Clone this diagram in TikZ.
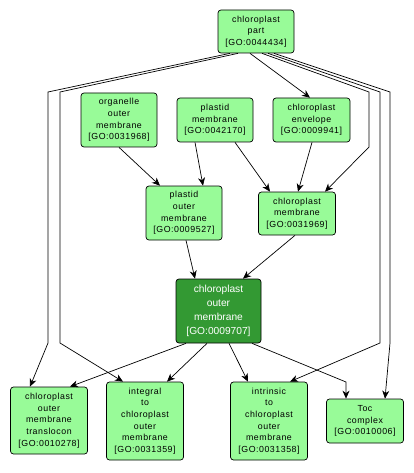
\documentclass[tikz,border=0pt]{standalone}
\usepackage{fontspec}
\setmainfont[LetterSpace=6]{Liberation Sans}
\newfontfamily\darkfont{Liberation Sans}
\usetikzlibrary{arrows.meta}
\definecolor{lightgo}{RGB}{152,251,152}
\definecolor{darkgo}{RGB}{51,153,51}
\begin{document}
\begin{tikzpicture}[x=1pt,y=-1pt,
  gobox/.style={draw=black,line width=0.7pt,rounded corners=3pt,fill=lightgo,
    align=center,inner sep=0pt,font=\fontsize{8.8}{11.7}\selectfont},
  godark/.style={gobox,fill=darkgo,text=white,font=\darkfont\fontsize{10.2}{14}\selectfont},
  edge/.style={draw=black,line width=0.7pt,-{Stealth[length=8pt,width=7pt,inset=2.5pt]}},
  wire/.style={draw=black,line width=0.7pt}]
\useasboundingbox (0,0) rectangle (414,473);
% nodes
\node[gobox,minimum width=76pt,minimum height=43pt] (part) at (256,31.5) {chloroplast\\part\\{[GO:0044434]}};
\node[gobox,minimum width=76pt,minimum height=54pt] (org) at (119,120) {organelle\\outer\\membrane\\{[GO:0031968]}};
\node[gobox,minimum width=76pt,minimum height=44pt] (pm) at (215,120) {plastid\\membrane\\{[GO:0042170]}};
\node[gobox,minimum width=77pt,minimum height=44pt] (env) at (311.5,120) {chloroplast\\envelope\\{[GO:0009941]}};
\node[gobox,minimum width=76pt,minimum height=54pt] (pom) at (184,213) {plastid\\outer\\membrane\\{[GO:0009527]}};
\node[gobox,minimum width=77pt,minimum height=43pt] (cm) at (297,213.5) {chloroplast\\membrane\\{[GO:0031969]}};
\node[godark,minimum width=85pt,minimum height=64pt] (com) at (218.5,311) {chloroplast\\outer\\membrane\\{[GO:0009707]}};
\node[gobox,minimum width=77pt,minimum height=67pt] (trans) at (49,420.5) {chloroplast\\outer\\membrane\\translocon\\{[GO:0010278]}};
\node[gobox,minimum width=77pt,minimum height=78pt] (integ) at (145,421) {integral\\to\\chloroplast\\outer\\membrane\\{[GO:0031359]}};
\node[gobox,minimum width=77pt,minimum height=78pt] (intr) at (269,421) {intrinsic\\to\\chloroplast\\outer\\membrane\\{[GO:0031358]}};
\node[gobox,minimum width=77pt,minimum height=44pt] (toc) at (365,421) {Toc\\complex\\{[GO:0010006]}};
% bend points
\coordinate (la1) at (48,92);  \coordinate (la2) at (48,343);
\coordinate (lb1) at (60,92);  \coordinate (lb2) at (60,343);
\coordinate (ra1) at (369,92); \coordinate (ra2) at (369,147);
\coordinate (rb1) at (380,92); \coordinate (rb2) at (380,343);
\coordinate (rc1) at (390,92); \coordinate (rc2) at (390,343);
\coordinate (tb) at (346,382);
% edges
\draw[edge] ([xshift=-6pt]part.south) -- ([xshift=-1.5pt]env.north);
\draw[edge] ([xshift=-26pt]part.south) -- (la1) -- (la2) -- ([xshift=-19pt]trans.north);
\draw[edge] ([xshift=-18pt]part.south) -- (lb1) -- (lb2) -- ([xshift=-22pt]integ.north);
\draw[edge] ([xshift=6pt]part.south) -- (ra1) -- (ra2) -- ([xshift=28pt]cm.north);
\draw[edge] ([xshift=12pt]part.south) -- (rb1) -- (rb2) -- ([xshift=21pt]intr.north);
\draw[edge] ([xshift=18pt]part.south) -- (rc1) -- (rc2) -- ([xshift=20pt]toc.north);
\draw[edge] (org.south) -- ([xshift=-24pt]pom.north);
\draw[edge] ([xshift=-20pt]pm.south) -- ([xshift=19pt]pom.north);
\draw[edge] ([xshift=20pt]pm.south) -- ([xshift=-27pt]cm.north);
\draw[edge] ([xshift=0.5pt]env.south) -- ([xshift=1pt]cm.north);
\draw[edge] ([xshift=2pt]pom.south) -- ([xshift=-23.5pt]com.north);
\draw[edge] ([xshift=-2pt]cm.south) -- ([xshift=24.5pt]com.north);
\draw[edge] ([xshift=-32.5pt]com.south) -- ([xshift=21pt]trans.north);
\draw[edge] ([xshift=-11.5pt]com.south) -- ([xshift=22pt]integ.north);
\draw[edge] ([xshift=10.5pt]com.south) -- ([xshift=-21pt]intr.north);
\draw[edge] ([xshift=33.5pt]com.south) -- (tb) -- ([xshift=-19pt]toc.north);
\end{tikzpicture}
\end{document}
